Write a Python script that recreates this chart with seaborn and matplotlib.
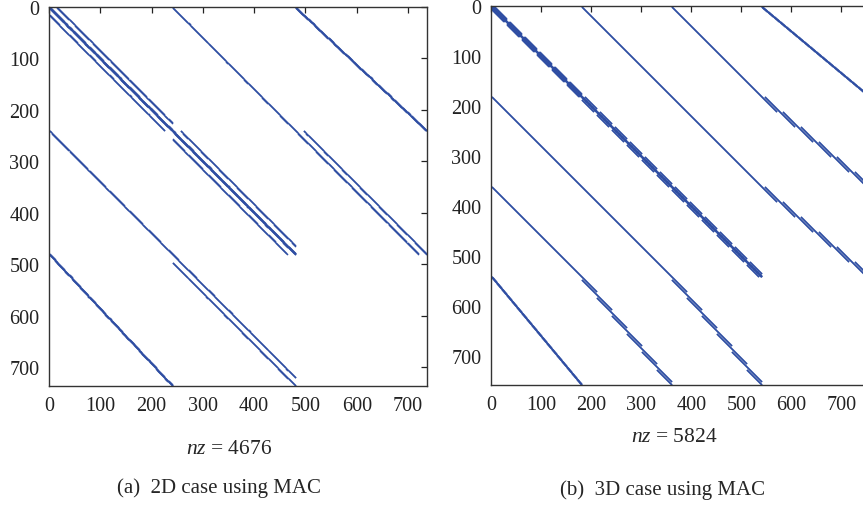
import numpy as np
import pandas as pd
import matplotlib
matplotlib.use('Agg')
import matplotlib.pyplot as plt
import seaborn as sns

# grid sizes of the two MAC discretisations
n_2d = 16
n_3d = 6
nz_text = ['4676', '5824']
captions = ['(a)  2D case using MAC', '(b)  3D case using MAC']
tick_values = [0, 100, 200, 300, 400, 500, 600, 700]
dot_color = '#2f4ea3'


def grid_index(dims):
    return np.arange(np.prod(dims)).reshape(dims, order='F')


def laplace(dims, axes):
    idx = grid_index(dims)
    r, c = [idx.ravel()], [idx.ravel()]
    for a in axes:
        lo = np.take(idx, range(dims[a] - 1), axis=a).ravel()
        hi = np.take(idx, range(1, dims[a]), axis=a).ravel()
        r += [lo, hi]
        c += [hi, lo]
    return np.concatenate(r), np.concatenate(c)


def gradient(vdims, pdims, axis):
    v = grid_index(vdims).ravel()
    p = grid_index(pdims)
    lo = np.take(p, range(pdims[axis] - 1), axis=axis).ravel()
    hi = np.take(p, range(1, pdims[axis]), axis=axis).ravel()
    return np.concatenate([v, v]), np.concatenate([lo, hi])


def assemble(vel_dims, vel_axis, p_dims, lap_axes):
    sizes = [int(np.prod(d)) for d in vel_dims]
    starts = np.cumsum([0] + sizes)
    p0 = starts[-1]
    rows, cols = [], []
    for k, d in enumerate(vel_dims):
        r, c = laplace(d, lap_axes)
        rows.append(r + starts[k]); cols.append(c + starts[k])
        r, c = gradient(d, p_dims, vel_axis[k])
        rows += [r + starts[k], c + p0]; cols += [c + p0, r + starts[k]]
    # coupling between velocity components
    for a in range(len(vel_dims)):
        for b in range(len(vel_dims)):
            if a != b:
                m = np.arange(min(sizes[a], sizes[b]))
                rows.append(m + starts[a]); cols.append(m + starts[b])
    n = p0 + int(np.prod(p_dims))
    return pd.DataFrame({'row': np.concatenate(rows) + 1,
                         'col': np.concatenate(cols) + 1}).drop_duplicates(), n


m = n_2d
df_a, size_a = assemble([(m - 1, m), (m, m - 1)], [0, 1], (m, m), (0, 1))
m = n_3d
df_b, size_b = assemble([(m - 1, m, m), (m, m - 1, m), (m, m - 1, m)], [0, 1, 1],
                        (m, m, m), (0, 1))

sns.set_style('white')
plt.rcParams['font.family'] = ['Liberation Serif', 'DejaVu Serif']
plt.rcParams['mathtext.fontset'] = 'custom'
plt.rcParams['mathtext.it'] = 'Liberation Serif:italic'
plt.rcParams['mathtext.rm'] = 'Liberation Serif'

fig = plt.figure(figsize=(8.63, 5.06), dpi=100)
ax_a = fig.add_axes([49 / 863, 119 / 506, 378 / 863, 379 / 506])
ax_b = fig.add_axes([491 / 863, 120 / 506, 379 / 863, 379 / 506])

for ax, df, n in [(ax_a, df_a, size_a), (ax_b, df_b, size_b)]:
    sns.scatterplot(data=df, x='col', y='row', ax=ax, s=1.5, marker='o',
                    color=dot_color, linewidth=0, legend=False)
    ax.set_xlim(0, n + 1)
    ax.set_ylim(n + 1, 0)
    ax.set_xticks(tick_values)
    ax.set_yticks(tick_values)
    ax.set_xlabel('')
    ax.set_ylabel('')
    ax.tick_params(direction='in', top=True, right=True, length=4, width=0.9,
                   labelsize=14.5, pad=7, colors='#222222')
    for s in ax.spines.values():
        s.set_color('#333333')
        s.set_linewidth(1.0)

fig.text(229 / 863, 1 - 450 / 506, r'$nz$ = ' + nz_text[0], ha='center', va='center', fontsize=15.5)
fig.text(674 / 863, 1 - 438 / 506, r'$nz$ = ' + nz_text[1], ha='center', va='center', fontsize=15.5)
fig.text(219 / 863, 1 - 488 / 506, captions[0], ha='center', va='center', fontsize=15)
fig.text(662 / 863, 1 - 490 / 506, captions[1], ha='center', va='center', fontsize=15)

fig.savefig('out.png', dpi=100)
